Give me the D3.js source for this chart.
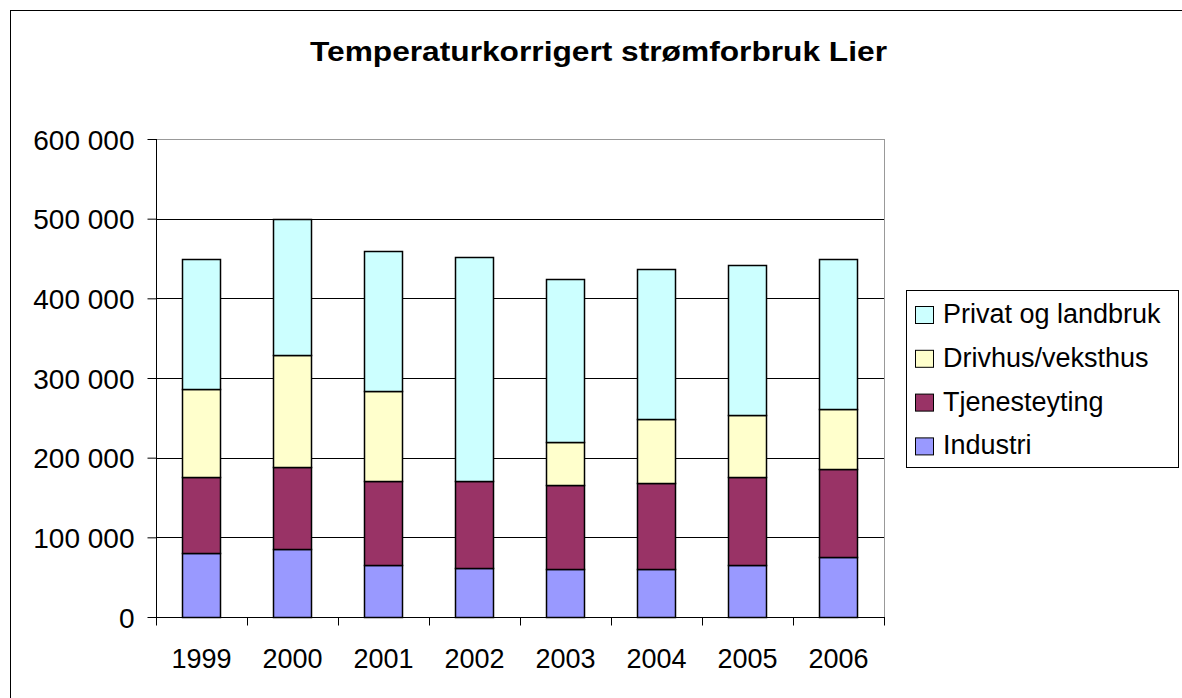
<!DOCTYPE html>
<meta charset="utf-8">
<style>
 body { margin: 0; background: #fff; }
 text { font-family: "Liberation Sans", Arial, sans-serif; fill: #000; }
</style>
<body>
<script src="https://d3js.org/d3.v7.min.js"></script>
<script>
 // data, in kWh
 var years = ["1999", "2000", "2001", "2002", "2003", "2004", "2005", "2006"];
 var industri = [80000, 85000, 65000, 62000, 60000, 60000, 65000, 75000];
 var tjenesteyting = [96000, 103000, 106000, 109000, 106000, 108000, 111000, 111000];
 var drivhus = [110000, 141000, 113000, 0, 54000, 81000, 78000, 75000];
 var privat = [164000, 171000, 175000, 281000, 204000, 188000, 188000, 189000];
 var seriesNames = ["Industri", "Tjenesteyting", "Drivhus/veksthus", "Privat og landbruk"];
 var colors = ["#9999FF", "#993366", "#FFFFCC", "#CCFFFF"];
 var yTicks = [0, 100000, 200000, 300000, 400000, 500000, 600000];

 var W = 1182, H = 698;
 var plot = { left: 156, top: 139, right: 884, bottom: 617 };

 var svg = d3.select("body").append("svg")
   .attr("width", W).attr("height", H);

 // outer chart border
 svg.append("rect")
   .attr("x", 10.5).attr("y", 10.5)
   .attr("width", W).attr("height", H)
   .attr("fill", "none").attr("stroke", "#000");

 svg.append("text")
   .attr("x", 310).attr("y", 61)
   .attr("font-size", "27px").attr("font-weight", "bold")
   .attr("textLength", 577).attr("lengthAdjust", "spacingAndGlyphs")
   .text("Temperaturkorrigert strømforbruk Lier");

 var x = d3.scaleBand().domain(years).range([plot.left, plot.right])
   .paddingInner(0.58).paddingOuter(0.29);
 var y = d3.scaleLinear().domain([0, 600000]).range([plot.bottom, plot.top]);

 var rows = years.map(function (yr, i) {
   return { year: yr, "Industri": industri[i], "Tjenesteyting": tjenesteyting[i],
            "Drivhus/veksthus": drivhus[i], "Privat og landbruk": privat[i] };
 });
 var stacked = d3.stack().keys(seriesNames)(rows);

 // plot frame (grey top/right)
 svg.append("rect")
   .attr("x", plot.left + 0.5).attr("y", plot.top + 0.5)
   .attr("width", plot.right - plot.left).attr("height", plot.bottom - plot.top)
   .attr("fill", "#fff").attr("stroke", "#999");

 // gridlines
 svg.append("g").selectAll("line")
   .data(yTicks.slice(1, -1))
   .enter().append("line")
   .attr("x1", plot.left).attr("x2", plot.right)
   .attr("y1", function (d) { return Math.round(y(d)) + 0.5; })
   .attr("y2", function (d) { return Math.round(y(d)) + 0.5; })
   .attr("stroke", "#000");

 // bars
 var groups = svg.append("g").selectAll("g")
   .data(stacked)
   .enter().append("g")
   .attr("fill", function (d, i) { return colors[i]; });

 groups.selectAll("rect")
   .data(function (d) { return d; })
   .enter().append("rect")
   .filter(function (d) { return d[1] > d[0]; })
   .attr("x", function (d) { return Math.round(x(d.data.year)) + 0.5; })
   .attr("width", Math.round(x.bandwidth()))
   .attr("y", function (d) { return Math.round(y(d[1])) + 0.5; })
   .attr("height", function (d) { return Math.round(y(d[0])) - Math.round(y(d[1])); })
   .attr("stroke", "#000").attr("stroke-width", 1.5);

 // y axis
 var fmt = function (d) { return d3.format(",")(d).replace(/,/g, " "); };
 svg.append("g")
   .attr("transform", "translate(" + (plot.left + 0.5) + ",0)")
   .call(d3.axisLeft(y).tickValues(yTicks).tickSize(9).tickPadding(13).tickFormat(fmt))
   .call(function (g) {
     g.selectAll("text").attr("font-size", "28px").attr("font-family", null).attr("dy", "0.36em");
     g.selectAll("line, path").attr("stroke", "#000");
     g.select(".domain").attr("d", "M0," + plot.bottom + "V" + plot.top);
   });

 // x axis (ticks at band boundaries)
 var xAxis = svg.append("g")
   .attr("transform", "translate(0," + (plot.bottom + 0.5) + ")");
 xAxis.append("line")
   .attr("x1", plot.left).attr("x2", plot.right + 1)
   .attr("stroke", "#000");
 var step = x.step();
 xAxis.selectAll(".tk")
   .data(d3.range(years.length + 1))
   .enter().append("line")
   .attr("x1", function (i) { return Math.round(plot.left + i * step) + 0.5; })
   .attr("x2", function (i) { return Math.round(plot.left + i * step) + 0.5; })
   .attr("y1", 0).attr("y2", 8)
   .attr("stroke", "#000");
 xAxis.selectAll("text")
   .data(years)
   .enter().append("text")
   .attr("x", function (d) { return x(d) + x.bandwidth() / 2; })
   .attr("y", 50)
   .attr("text-anchor", "middle")
   .attr("font-size", "27px")
   .text(function (d) { return d; });

 // legend
 var lg = svg.append("g");
 lg.append("rect")
   .attr("x", 906.5).attr("y", 290.5)
   .attr("width", 272).attr("height", 177)
   .attr("fill", "#fff").attr("stroke", "#000");
 var legendItems = seriesNames.slice().reverse();
 var legendColors = colors.slice().reverse();
 var li = lg.selectAll(".li")
   .data(legendItems)
   .enter().append("g")
   .attr("transform", function (d, i) { return "translate(915," + (306 + i * 43.8) + ")"; });
 li.append("rect")
   .attr("x", 0.5).attr("y", 0.5).attr("width", 18).attr("height", 17)
   .attr("fill", function (d, i) { return legendColors[i]; })
   .attr("stroke", "#000");
 li.append("text")
   .attr("x", 28).attr("y", 17)
   .attr("font-size", "27px")
   .text(function (d) { return d; });
</script>
</body>
